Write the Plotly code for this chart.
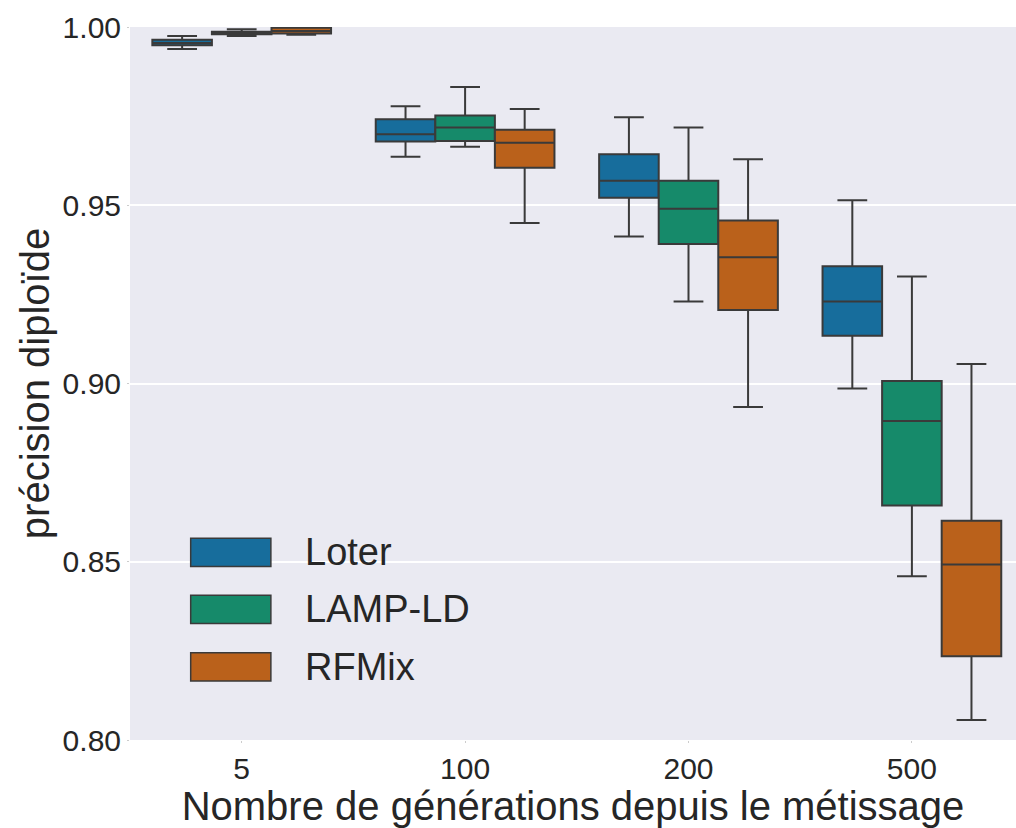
import plotly.graph_objects as go

# ---- data ----
categories = ["5", "100", "200", "500"]
methods = ["Loter", "LAMP-LD", "RFMix"]
colors = ["#176d9c", "#168a6a", "#ba611b"]

loter_upper = [0.9975, 0.9778, 0.9747, 0.9514]
loter_q3 = [0.9964, 0.9741, 0.9643, 0.9329]
loter_median = [0.9955, 0.9699, 0.9569, 0.9230]
loter_q1 = [0.9949, 0.9679, 0.9521, 0.9134]
loter_lower = [0.9938, 0.9636, 0.9412, 0.8986]

lamp_upper = [0.9994, 0.9832, 0.9718, 0.9300]
lamp_q3 = [0.9987, 0.9752, 0.9569, 0.9007]
lamp_median = [0.9983, 0.9718, 0.9490, 0.8895]
lamp_q1 = [0.9980, 0.9680, 0.9391, 0.8658]
lamp_lower = [0.9975, 0.9664, 0.9230, 0.8459]

rfmix_upper = [1.0000, 0.9770, 0.9629, 0.9055]
rfmix_q3 = [0.9998, 0.9712, 0.9457, 0.8615]
rfmix_median = [0.9989, 0.9675, 0.9354, 0.8492]
rfmix_q1 = [0.9982, 0.9605, 0.9206, 0.8235]
rfmix_lower = [0.9978, 0.9450, 0.8934, 0.8056]

stats = [
    (loter_lower, loter_q1, loter_median, loter_q3, loter_upper),
    (lamp_lower, lamp_q1, lamp_median, lamp_q3, lamp_upper),
    (rfmix_lower, rfmix_q1, rfmix_median, rfmix_q3, rfmix_upper),
]

y_ticks = [0.80, 0.85, 0.90, 0.95, 1.00]

FONT = "Liberation Sans, Arial, sans-serif"
TEXT = "#262626"
EDGE = "#3a3a3a"

fig = go.Figure()
for name, col, (lo, q1, med, q3, up) in zip(methods, colors, stats):
    fig.add_trace(go.Box(
        name=name,
        x=categories,
        lowerfence=lo, q1=q1, median=med, q3=q3, upperfence=up,
        fillcolor=col,
        line=dict(color=EDGE, width=2),
        whiskerwidth=0.5,
        boxpoints=False,
        showlegend=False,
    ))

# legend drawn as patches + labels, built from the series names/colors
leg_top = [0.2828, 0.2029, 0.1224]
patch_h = 0.0395
for name, col, top in zip(methods, colors, leg_top):
    fig.add_shape(type="rect", xref="paper", yref="paper",
                  x0=0.0685, x1=0.159, y0=top - patch_h, y1=top,
                  fillcolor=col, line=dict(color=EDGE, width=1.5))
    fig.add_annotation(xref="paper", yref="paper", x=0.195, y=top - patch_h / 2,
                       text=name, showarrow=False, xanchor="left", yanchor="middle",
                       font=dict(family=FONT, size=38, color=TEXT))

fig.update_layout(
    width=1016, height=828,
    margin=dict(l=130, r=0, t=27, b=88),
    paper_bgcolor="white",
    plot_bgcolor="#eaeaf2",
    boxmode="group",
    boxgap=0.2,
    boxgroupgap=0,
    font=dict(family=FONT, color=TEXT),
)
fig.update_xaxes(
    type="category",
    categoryarray=categories,
    range=[-0.5, 3.466],
    showgrid=False, zeroline=False, showline=False,
    ticks="outside", ticklen=2, tickcolor="#cccccc",
    tickfont=dict(family=FONT, size=30, color=TEXT),
    title=dict(text="Nombre de générations depuis le métissage",
               font=dict(family=FONT, size=40, color=TEXT), standoff=4),
)
fig.update_yaxes(
    range=[0.80, 1.00],
    tickvals=y_ticks,
    tickformat=".2f",
    showgrid=True, gridcolor="white", gridwidth=1.5,
    zeroline=False, showline=False,
    ticks="outside", ticklen=2, tickcolor="#cccccc",
    tickfont=dict(family=FONT, size=30, color=TEXT),
    title=dict(text="précision diploïde",
               font=dict(family=FONT, size=40, color=TEXT), standoff=0),
)

fig.write_html(
    "out.html",
    config={"displayModeBar": False},
    post_script="document.body.style.margin='0';document.body.style.padding='0';document.body.style.overflow='hidden';",
)
